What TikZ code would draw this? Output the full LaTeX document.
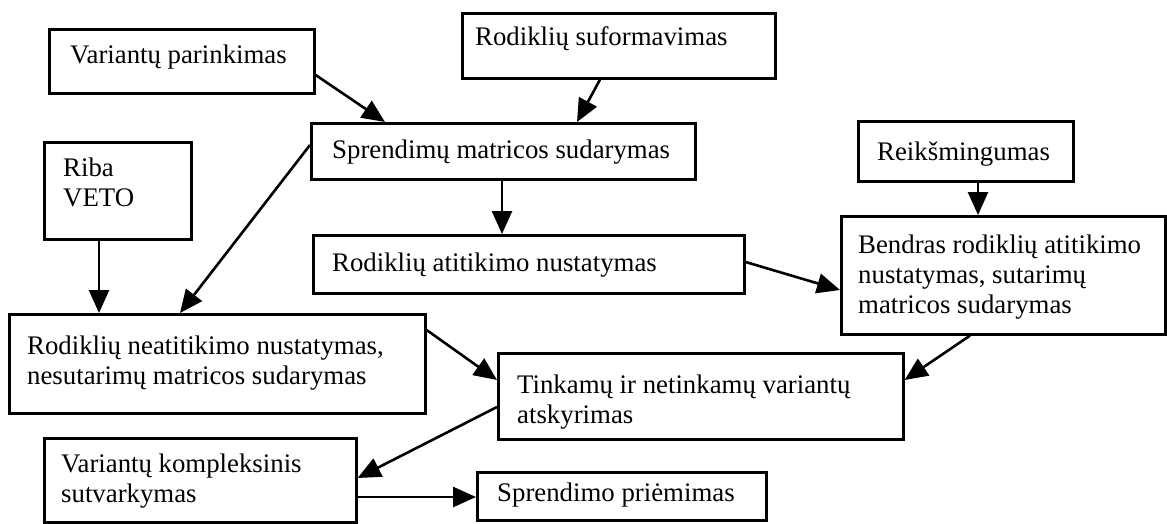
\documentclass[tikz,border=0pt]{standalone}
\usepackage{fontspec}
\setmainfont{Liberation Serif}
\usetikzlibrary{arrows.meta,calc}
\tikzset{
  box/.style={draw, line width=2.6pt, inner sep=0pt, anchor=north west},
  txt/.style={inner sep=0pt, anchor=north west, align=left, font=\fontsize{26.8}{30}\selectfont},
  arr/.style={line width=2.6pt, -{Triangle[length=23pt,width=20pt]}},
}
\begin{document}
\begin{tikzpicture}[x=1pt,y=-1pt]
\useasboundingbox (0,0) rectangle (1167,524);
% boxes
\node[box, minimum width=265pt, minimum height=64pt] (A) at (48,28) {};
\node[box, minimum width=313pt, minimum height=65pt] (B) at (461,12) {};
\node[box, minimum width=384pt, minimum height=56pt] (C) at (310,122) {};
\node[box, minimum width=147pt, minimum height=97pt] (D) at (43,141) {};
\node[box, minimum width=215pt, minimum height=60pt] (E) at (857,120) {};
\node[box, minimum width=431pt, minimum height=58pt] (F) at (312,234) {};
\node[box, minimum width=324pt, minimum height=118pt] (G) at (840,215) {};
\node[box, minimum width=416pt, minimum height=99pt] (H) at (8,313) {};
\node[box, minimum width=405pt, minimum height=86pt] (I) at (497,352) {};
\node[box, minimum width=312pt, minimum height=84pt] (J) at (43,437) {};
\node[box, minimum width=289pt, minimum height=48pt] (K) at (476,471) {};
% texts
\node[txt] (At) at (70,45) {Variantų parinkimas};
\node[txt] (Bt) at (475,26) {Rodiklių suformavimas};
\node[txt] (Ct) at (332,140) {Sprendimų matricos sudarymas};
\node[txt] (Dt) at (63,158) {Riba\\VETO};
\node[txt] (Et) at (877,142) {Reikšmingumas};
\node[txt] (Ft) at (332,253) {Rodiklių atitikimo nustatymas};
\node[txt] (Gt) at (858,235) {Bendras rodiklių atitikimo\\nustatymas, sutarimų\\matricos sudarymas};
\node[txt] (Ht) at (27,336) {Rodiklių neatitikimo nustatymas,\\nesutarimų matricos sudarymas};
\node[txt] (It) at (517,375) {Tinkamų ir netinkamų variantų\\atskyrimas};
\node[txt] (Jt) at (61,454) {Variantų kompleksinis\\sutvarkymas};
\node[txt] (Kt) at (497,483) {Sprendimo priėmimas};
% connectors
\draw[arr] ($(A.north east)+(0,47)$) -- ($(C.north west)+(75,0)$);
\draw[arr] ($(B.south west)+(139,0)$) -- ($(C.north west)+(267,0)$);
\draw[arr] ($(C.south west)+(192,0)$) -- ($(F.north west)+(190,0)$);
\draw[arr] ($(C.north west)+(0,23)$) -- ($(H.north west)+(172,0)$);
\draw[arr] ($(D.south west)+(56,0)$) -- ($(H.north west)+(91,0)$);
\draw[arr] ($(E.south west)+(121,0)$) -- ($(G.north west)+(138,0)$);
\draw[arr] ($(F.north east)+(0,28)$) -- ($(G.north west)+(0,75)$);
\draw[arr] ($(H.north east)+(0,17)$) -- ($(I.north west)+(0,28)$);
\draw[arr] ($(G.south west)+(130,0)$) -- ($(I.north east)+(0,28)$);
\draw[arr] ($(I.north west)+(0,55)$) -- ($(J.north east)+(0,41)$);
\draw[arr] ($(J.north east)+(0,60)$) -- ($(K.north west)+(0,26)$);
\end{tikzpicture}
\end{document}
